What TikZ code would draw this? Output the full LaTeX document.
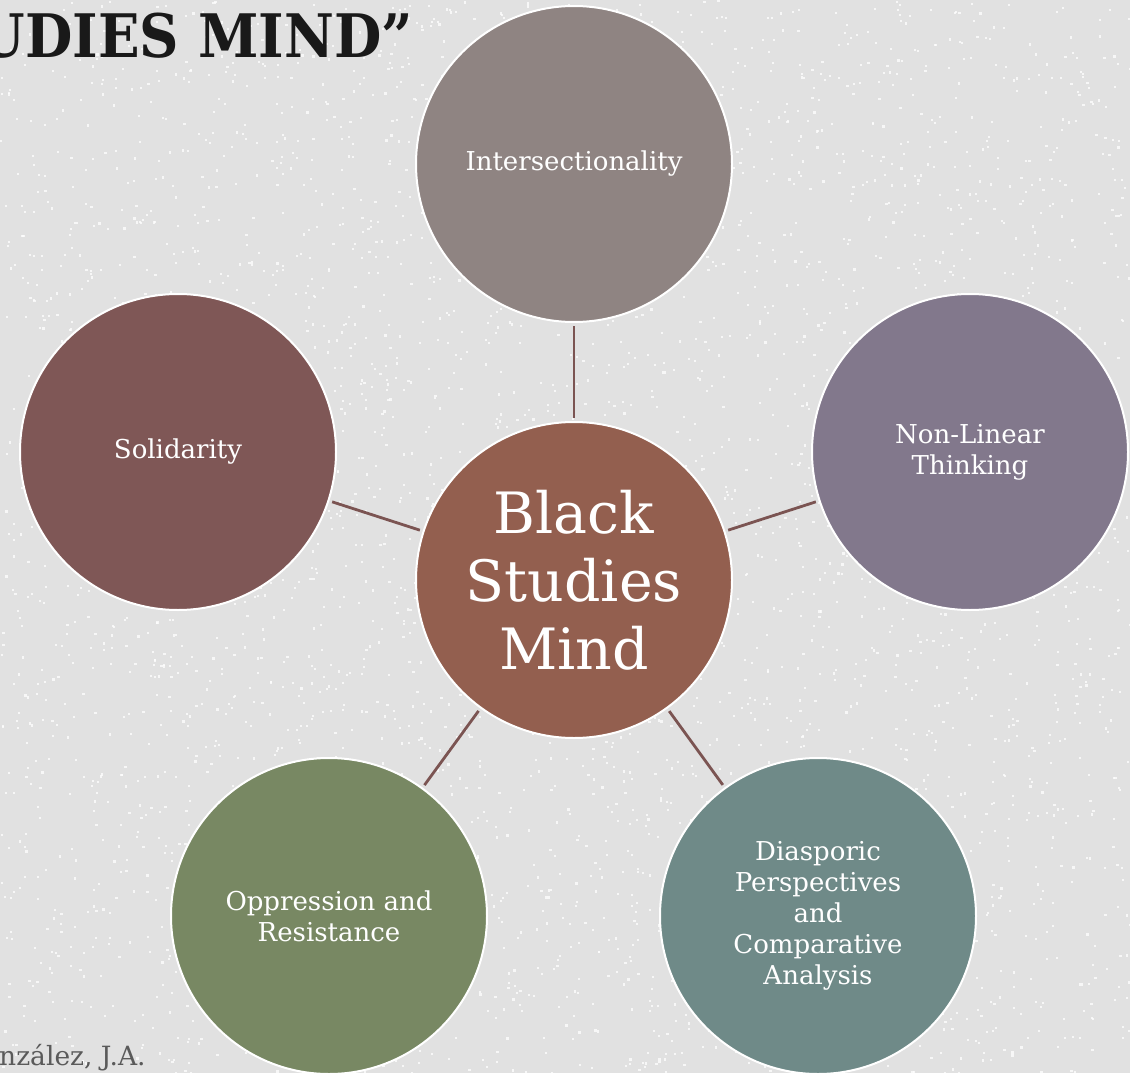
\documentclass[tikz,border=0pt]{standalone}
\usepackage{fontspec}
\setmainfont{DejaVu Serif}
\definecolor{bgc}{HTML}{E1E1E1}
\definecolor{linkc}{HTML}{7B5452}
\definecolor{cInter}{HTML}{8F8482}
\definecolor{cNon}{HTML}{82788C}
\definecolor{cSol}{HTML}{7F5756}
\definecolor{cMid}{HTML}{935F4F}
\definecolor{cOpp}{HTML}{788863}
\definecolor{cDia}{HTML}{6F8A88}
\definecolor{cFoot}{HTML}{5A5A5A}
\begin{document}
\begin{tikzpicture}[x=1pt,y=-1pt,
  circ/.style={circle, draw=white, line width=2pt, minimum size=316pt, inner sep=0pt,
    text=white, align=center, font=\fontsize{26}{31}\selectfont},
  link/.style={draw=linkc, line width=2.8pt, shorten <=3pt, shorten >=3pt}]
\useasboundingbox (0,0) rectangle (1130,1073);
\fill[bgc] (0,0) rectangle (1130,1073);
\clip (0,0) rectangle (1130,1073);
\pgfmathsetseed{7}
\foreach \i in {1,...,4000}{
  \pgfmathsetmacro{\px}{rnd*1130}
  \pgfmathsetmacro{\py}{rnd*1073}
  \fill[white,opacity=0.75] (\px,\py) rectangle ++(2.2,2.2);
}
\node[circ, fill=cMid, font=\fontsize{57}{68}\selectfont] (mid) at (574,580) {Black\\Studies\\Mind};
\node[circ, fill=cInter] (inter) at (574,164) {Intersectionality};
\node[circ, fill=cNon] (non) at (970,452) {Non-Linear\\Thinking};
\node[circ, fill=cSol] (sol) at (178,452) {Solidarity};
\node[circ, fill=cOpp] (opp) at (329,916) {Oppression and\\Resistance};
\node[circ, fill=cDia] (dia) at (818,916) {Diasporic\\Perspectives\\and\\Comparative\\Analysis};
\draw[link] (mid) -- (inter);
\draw[link] (mid) -- (non);
\draw[link] (mid) -- (sol);
\draw[link] (mid) -- (opp);
\draw[link] (mid) -- (dia);
\node[anchor=base east, inner sep=0pt, text=black!90, font=\bfseries\fontsize{60}{60}\selectfont] (title) at (413,58) {\scalebox{0.91}[1]{UDIES MIND”}};
\node[anchor=base west, inner sep=0pt, text=cFoot, font=\fontsize{26.5}{26.5}\selectfont] (foot) at (-1,1065) {nzález, J.A.};
\end{tikzpicture}
\end{document}
